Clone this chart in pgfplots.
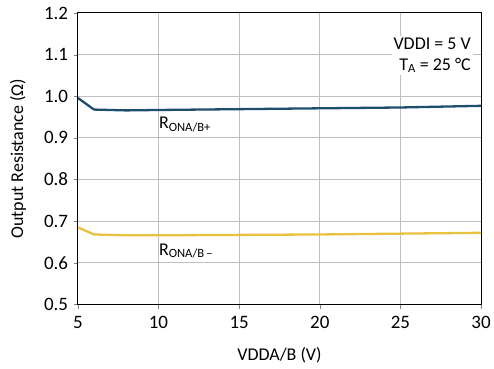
\documentclass[border=0pt]{standalone}
\usepackage{fontspec}
\setmainfont{Carlito}
\usepackage{pgfplots}
\pgfplotsset{compat=1.18}
\definecolor{bl}{HTML}{1D4E6E}
\definecolor{yl}{HTML}{E8C13E}
\definecolor{gr}{HTML}{BFBFBF}
\begin{document}
\begin{tikzpicture}
\begin{axis}[at={(0,0)},anchor=south west,
  scale only axis, width=404bp, height=292bp,
  xmin=5,xmax=30,ymin=0.5,ymax=1.2,
  xtick={5,10,15,20,25,30},
  xticklabels={5,10,15,20,25,30},
  ytick={0.5,0.6,0.7,0.8,0.9,1.0,1.1,1.2},
  yticklabels={0.5,0.6,0.7,0.8,0.9,1.0,1.1,1.2},
  grid=major,
  grid style={gr, line width=1bp},
  axis line style={line width=1bp},
  tick align=outside,
  xtick pos=bottom, ytick pos=left,
  yticklabel style={xshift=-2bp},
  xticklabel style={yshift=-4bp},
  ticklabel style={font=\fontsize{19bp}{22bp}\selectfont},
  xlabel={VDDA/B (V)},
  ylabel={Output Resistance (Ω)},
  every axis x label/.style={at={(axis description cs:0.5,0)}, yshift=-51bp, anchor=center, font=\fontsize{18bp}{22bp}\selectfont},
  every axis y label/.style={at={(axis description cs:0,0.5)}, xshift=-60bp, rotate=90, anchor=center, font=\fontsize{18bp}{22bp}\selectfont},
]
\addplot[bl, line width=2.3bp] coordinates {(5,0.996) (6,0.968) (8,0.966) (10,0.967) (15,0.969) (20,0.971) (25,0.973) (30,0.977)};
\addplot[yl, line width=2.3bp] coordinates {(5,0.685) (6,0.668) (8,0.666) (10,0.666) (15,0.667) (20,0.668) (25,0.670) (30,0.672)};
\node[anchor=base west, inner sep=0pt, font=\fontsize{18bp}{22bp}\selectfont] at (axis cs:10.02,0.922) {R\textsubscript{ONA/B+}};
\node[anchor=base west, inner sep=0pt, font=\fontsize{18bp}{22bp}\selectfont] at (axis cs:10.02,0.6185) {R\textsubscript{ONA/B\,–}};
\node[anchor=north east, fill=white, align=right, inner sep=2bp, font=\fontsize{18bp}{21bp}\selectfont] at (axis cs:29.5,1.146) {VDDI = 5 V\\T\textsubscript{A} = 25 °C};
\end{axis}
\path (-78bp,-64bp) rectangle (416bp,305bp);
\end{tikzpicture}
\end{document}
